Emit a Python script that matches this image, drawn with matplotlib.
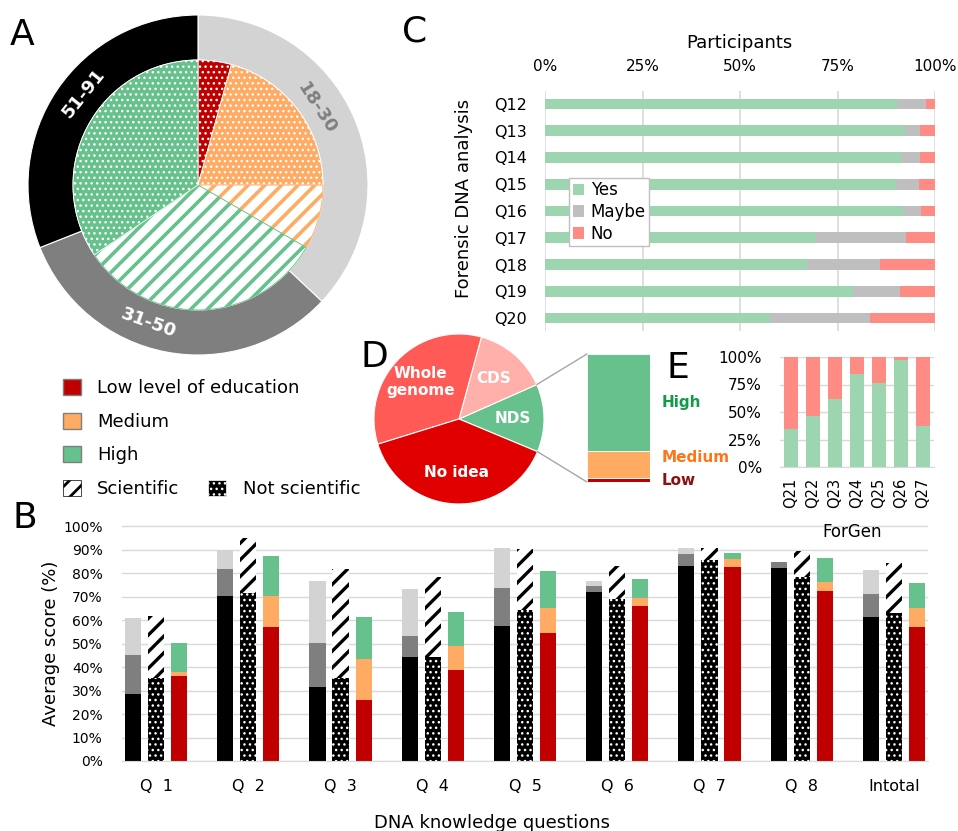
import numpy as np
import matplotlib
matplotlib.use("Agg")
import matplotlib.pyplot as plt
from matplotlib.patches import Patch, ConnectionPatch
from matplotlib.ticker import FuncFormatter

W, H = 958, 831
plt.rcParams['font.family'] = ['DejaVu Sans']
plt.rcParams['hatch.linewidth'] = 1.0

# colours
c_low, c_med, c_high = '#c00000', '#ffab64', '#66c18c'
c_young, c_mid, c_old = '#d3d3d3', '#7f7f7f', '#000000'
c_yes, c_maybe, c_no = '#9dd5b0', '#bfbfbf', '#ff8c84'

# ---- A: participants by age and education ----
age_groups = ['18-30', '31-50', '51-91']
age_share = [37, 32, 31]
edu_slices = ['Low, not scientific', 'Medium, not scientific', 'Medium, scientific',
              'High, scientific', 'High, not scientific']
edu_share = [4.3, 20.7, 8.3, 32.2, 34.4]

# ---- B: average score per knowledge question ----
questions = ['Q  1', 'Q  2', 'Q  3', 'Q  4', 'Q  5', 'Q  6', 'Q  7', 'Q  8', 'Intotal']
age_51_91 = [28.7, 70.3, 31.5, 44.5, 57.5, 71.8, 82.9, 82.2, 61.3]
age_31_50 = [16.5, 11.5, 18.6, 8.9, 16.1, 2.8, 5.4, 2.5, 9.7]
age_18_30 = [15.7, 7.9, 26.6, 20.0, 17.2, 2.1, 2.5, 0.0, 10.2]
not_scientific = [35.3, 71.6, 35.3, 44.2, 64.5, 68.8, 85.5, 78.4, 63.1]
scientific = [26.6, 23.2, 46.5, 34.2, 25.6, 14.3, 5.3, 11.0, 21.4]
edu_low = [36.3, 56.9, 25.8, 38.8, 54.4, 66.1, 82.6, 72.6, 57.2]
edu_medium = [1.7, 13.3, 17.6, 10.2, 10.6, 3.4, 3.4, 3.8, 7.8]
edu_high = [12.1, 17.1, 17.8, 14.3, 15.9, 7.8, 2.6, 9.9, 11.0]

# ---- C: forensic DNA analysis ----
c_questions = ['Q12', 'Q13', 'Q14', 'Q15', 'Q16', 'Q17', 'Q18', 'Q19', 'Q20']
c_yes_pct = [90.2, 92.4, 91.2, 90.0, 91.7, 69.6, 67.1, 79.0, 57.6]
c_maybe_pct = [7.4, 3.8, 4.9, 5.8, 4.7, 23.0, 18.9, 11.9, 25.7]
c_no_pct = [2.4, 3.8, 3.9, 4.2, 3.6, 7.4, 14.0, 9.1, 16.7]

# ---- D: where forensic DNA is analysed ----
d_labels = ['NDS', 'CDS', 'Whole\ngenome', 'No idea']
d_share = [12.9, 14.1, 34.0, 38.9]
nds_levels = ['Low', 'Medium', 'High']
nds_share = [3, 21, 76]

# ---- E: ForGen questions ----
e_questions = ['Q21', 'Q22', 'Q23', 'Q24', 'Q25', 'Q26', 'Q27']
e_yes = [34.2, 46.7, 62.1, 84.5, 76.4, 97.0, 37.6]
e_no = [65.8, 53.3, 37.9, 15.5, 23.6, 3.0, 62.4]

fig = plt.figure(figsize=(W / 100, H / 100), dpi=100)


def px_axes(x0, y0, x1, y1):
    return fig.add_axes([x0 / W, 1 - y1 / H, (x1 - x0) / W, (y1 - y0) / H])


def hatch_width(artists, lw):
    for a in artists:
        if hasattr(a, 'set_hatch_linewidth'):
            a.set_hatch_linewidth(lw)


pct = FuncFormatter(lambda v, _: f'{v:.0f}%')

# ---------------- A ----------------
axA = px_axes(28, 15, 368, 355)
ring, _ = axA.pie(age_share, radius=1, startangle=90, counterclock=False,
                  colors=[c_young, c_mid, c_old],
                  wedgeprops=dict(width=0.265, edgecolor='white', linewidth=0.8))
inner_face = [c_low, c_med, 'white', 'white', c_high]
inner_edge = ['white', 'white', c_med, c_high, 'white']
inner_hatch = ['...', '...', '//', '//', '...']
inner, _ = axA.pie(edu_share, radius=0.735, startangle=90, counterclock=False,
                   colors=inner_face, hatch=inner_hatch,
                   wedgeprops=dict(linewidth=0.6))
for w, ec, h in zip(inner, inner_edge, inner_hatch):
    w.set_edgecolor(ec)
    hatch_width([w], 2.6 if h == '//' else 1.0)
# ring labels, nudged along the ring (degrees) and set at a radius each
for w, lab, col, nudge, rad in zip(ring, age_groups, ['#7f7f7f', 'white', 'white'],
                                   [9.5, -9, -4.5], [0.83, 0.86, 0.86]):
    ang = (w.theta1 + w.theta2) / 2 + nudge
    a = np.deg2rad(ang)
    rot = ang + 90 if np.sin(a) < 0 else ang - 90
    axA.text(rad * np.cos(a), rad * np.sin(a), lab, rotation=rot,
             ha='center', va='center', color=col, fontsize=13, fontweight='bold',
             rotation_mode='anchor')
axA.set_xlim(-1, 1)
axA.set_ylim(-1, 1)
axA.set_aspect('equal')
axA.axis('off')

leg1 = fig.legend(handles=[Patch(facecolor=c_low, edgecolor='#7f7f7f', label='Low level of education'),
                           Patch(facecolor=c_med, edgecolor='#7f7f7f', label='Medium'),
                           Patch(facecolor=c_high, edgecolor='#7f7f7f', label='High')],
                  loc='upper left', bbox_to_anchor=(63 / W, 1 - 379 / H), frameon=False,
                  fontsize=13, handlelength=1.0, handleheight=1.0, handletextpad=0.9,
                  labelspacing=0.85, borderpad=0, borderaxespad=0)
sci_handles = [Patch(facecolor='white', edgecolor='black', hatch='//', linewidth=0.5, label='Scientific'),
               Patch(facecolor='black', edgecolor='white', hatch='...', linewidth=0.5, label='Not scientific')]
leg2 = fig.legend(handles=sci_handles, ncol=2, loc='upper left',
                  bbox_to_anchor=(63 / W, 1 - 480 / H), frameon=False, fontsize=13,
                  handlelength=1.0, handleheight=1.0, handletextpad=0.9,
                  columnspacing=1.6, borderpad=0, borderaxespad=0)
hatch_width(leg2.get_patches(), 2.0)
hatch_width(leg2.get_patches()[1:], 1.0)

# ---------------- B ----------------
axB = px_axes(122, 525, 928, 761)
x = np.arange(len(questions))
bw, off = 0.175, 0.25
a1 = np.array(age_51_91)
a2 = a1 + np.array(age_31_50)
axB.bar(x - off, age_51_91, bw, color=c_old, linewidth=0)
axB.bar(x - off, age_31_50, bw, bottom=a1, color=c_mid, linewidth=0)
axB.bar(x - off, age_18_30, bw, bottom=a2, color=c_young, linewidth=0)
dots = axB.bar(x, not_scientific, bw, color='black', edgecolor='white', hatch='...', linewidth=0)
stripes = axB.bar(x, scientific, bw, bottom=not_scientific, color='white', edgecolor='black',
                  hatch='//', linewidth=0)
hatch_width(dots, 1.0)
hatch_width(stripes, 2.4)
e1 = np.array(edu_low)
e2 = e1 + np.array(edu_medium)
axB.bar(x + off, edu_low, bw, color=c_low, linewidth=0)
axB.bar(x + off, edu_medium, bw, bottom=e1, color=c_med, linewidth=0)
axB.bar(x + off, edu_high, bw, bottom=e2, color=c_high, linewidth=0)
axB.set_xlim(-0.37, len(questions) - 1 + 0.37)
axB.set_ylim(0, 100.5)
axB.set_yticks(np.arange(0, 101, 10))
axB.yaxis.set_major_formatter(pct)
axB.set_xticks(x, questions)
axB.tick_params(axis='x', length=0, pad=13, labelsize=11.5)
axB.tick_params(axis='y', length=0, pad=14, labelsize=10)
axB.yaxis.grid(True, color='#d9d9d9', linewidth=1)
axB.set_axisbelow(True)
for s in ['top', 'right', 'left']:
    axB.spines[s].set_visible(False)
axB.spines['bottom'].set_color('#d9d9d9')
axB.set_ylabel('Average score (%)', fontsize=13)
axB.yaxis.set_label_coords(-0.077, 0.5)
axB.set_xlabel('DNA knowledge questions', fontsize=13)
axB.xaxis.set_label_coords(0.459, -0.225)

# ---------------- C ----------------
axC = px_axes(545, 90.6, 935, 331.4)
yc = np.arange(len(c_questions))
left2 = np.array(c_yes_pct)
left3 = left2 + np.array(c_maybe_pct)
axC.barh(yc, c_yes_pct, 0.4, color=c_yes, label='Yes')
axC.barh(yc, c_maybe_pct, 0.4, left=left2, color=c_maybe, label='Maybe')
axC.barh(yc, c_no_pct, 0.4, left=left3, color=c_no, label='No')
axC.set_ylim(len(c_questions) - 0.5, -0.5)
axC.set_xlim(0, 100)
axC.set_xticks([0, 25, 50, 75, 100])
axC.xaxis.set_major_formatter(pct)
axC.xaxis.tick_top()
axC.xaxis.set_label_position('top')
axC.set_yticks(yc, c_questions)
axC.tick_params(axis='x', length=0, pad=12, labelsize=11)
axC.tick_params(axis='y', length=0, pad=13, labelsize=11.5)
axC.xaxis.grid(True, color='#d9d9d9', linewidth=1.2)
axC.set_axisbelow(True)
for s in axC.spines.values():
    s.set_visible(False)
axC.set_xlabel('Participants', fontsize=13)
axC.xaxis.set_label_coords(0.499, 1.177)
axC.set_ylabel('Forensic DNA analysis', fontsize=13)
axC.yaxis.set_label_coords(-0.185, 0.552)
legC = axC.legend(loc='upper left', bbox_to_anchor=(0.062, 0.637), fontsize=12,
                  fancybox=False, edgecolor='#bfbfbf', framealpha=1,
                  handlelength=0.7, handleheight=0.7, handletextpad=0.4,
                  labelspacing=0.22, borderpad=0.2, borderaxespad=0)
legC.get_frame().set_linewidth(1.0)

# ---------------- D ----------------
axD = px_axes(374, 334, 544, 504)
d_wedges, _ = axD.pie(d_share, labels=d_labels, startangle=-22.6, counterclock=True,
                      colors=[c_high, '#ffb0aa', '#ff5a55', '#e00000'],
                      labeldistance=0.63,
                      textprops=dict(color='white', fontweight='bold', fontsize=11,
                                     ha='center', va='center'),
                      wedgeprops=dict(edgecolor='white', linewidth=0.8))
axD.set_xlim(-1, 1)
axD.set_ylim(-1, 1)
axD.set_aspect('equal')
axD.axis('off')

axN = px_axes(587, 354, 650, 482)
bottoms = np.concatenate([[0], np.cumsum(nds_share)[:-1]])
axN.bar(0, nds_share, 1, bottom=bottoms, color=[c_low, c_med, c_high],
        edgecolor='white', linewidth=0.6)
axN.set_xlim(-0.5, 0.5)
axN.set_ylim(0, sum(nds_share))
axN.axis('off')
for lab, b, v, col, dy in zip(nds_levels, bottoms, nds_share,
                              ['#8b1010', '#ff7518', '#129c48'], [0, 5, 0]):
    axN.annotate(lab, xy=(0.5, b + v / 2), xytext=(8.5, dy), textcoords='offset points',
                 ha='left', va='center', color=col, fontsize=11, fontweight='bold')

nds = d_wedges[0]
for theta, ybar in [(nds.theta2, sum(nds_share)), (nds.theta1, 0)]:
    t = np.deg2rad(theta)
    con = ConnectionPatch(xyA=(np.cos(t), np.sin(t)), coordsA=axD.transData,
                          xyB=(-0.5, ybar), coordsB=axN.transData,
                          color='#a6a6a6', linewidth=1)
    fig.add_artist(con)

# ---------------- E ----------------
axE = px_axes(780, 357, 934, 467)
xe = np.arange(len(e_questions))
axE.bar(xe, e_yes, 0.68, color=c_yes)
axE.bar(xe, e_no, 0.68, bottom=e_yes, color=c_no)
axE.set_xlim(-0.5, len(e_questions) - 0.5)
axE.set_ylim(0, 100)
axE.set_yticks([0, 25, 50, 75, 100])
axE.yaxis.set_major_formatter(pct)
axE.set_xticks(xe, e_questions, rotation=90)
axE.tick_params(axis='x', length=0, pad=8, labelsize=10.5)
axE.tick_params(axis='y', length=0, pad=13, labelsize=11)
axE.yaxis.grid(True, color='#d9d9d9', linewidth=1)
axE.set_axisbelow(True)
for s in ['top', 'right', 'left']:
    axE.spines[s].set_visible(False)
axE.spines['bottom'].set_color('#d9d9d9')

fig.text(852 / W, 1 - 532 / H, 'ForGen', ha='center', va='center', fontsize=12)

# panel letters
for letter, px, py in [('A', 10, 45), ('B', 12, 528), ('C', 402, 42), ('D', 360, 367), ('E', 667, 378)]:
    fig.text(px / W, 1 - py / H, letter, fontsize=26, va='baseline', ha='left')

fig.savefig('out.png', dpi=100)
